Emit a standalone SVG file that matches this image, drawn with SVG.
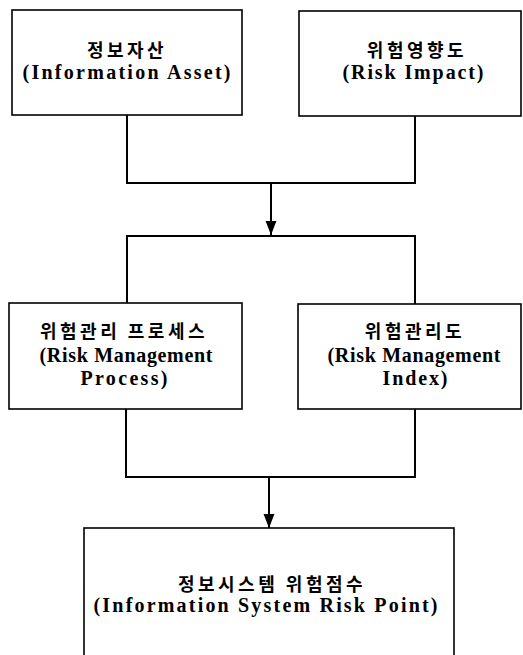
<svg xmlns="http://www.w3.org/2000/svg" width="523" height="655" viewBox="0 0 523 655">
<style>
.box{fill:#fff;stroke:#000;stroke-width:1.6}
.ko{font-family:"Noto Sans CJK KR","Noto Sans",sans-serif;font-size:18px;font-weight:bold;letter-spacing:3.5px;text-anchor:middle;fill:#000}
.en{font-family:"Liberation Serif","DejaVu Serif",serif;font-size:20px;font-weight:bold;text-anchor:middle;fill:#000}
.ln{fill:none;stroke:#000;stroke-width:2}
</style>
<defs>
<marker id="arr" markerUnits="userSpaceOnUse" markerWidth="14" markerHeight="18" refX="18" refY="7" orient="auto" viewBox="0 0 18 14">
<path d="M0,0 L18,7 L0,14 Z" fill="#000"/>
</marker>
</defs>
<g id="connectors">
<path class="ln" d="M127,115 V183 H415 V116"/>
<line class="ln" x1="271" y1="183" x2="271" y2="235" marker-end="url(#arr)"/>
<path class="ln" d="M127,303 V236 H415 V304"/>
<path class="ln" d="M126,409 V477 H415 V409"/>
<line class="ln" x1="269" y1="477" x2="269" y2="528" marker-end="url(#arr)"/>
</g>
<g id="n1">
<rect class="box" x="12" y="10" width="230" height="105"/>
<text class="ko" x="127" y="57">정보자산</text>
<text class="en" x="126.5" y="79" textLength="208" lengthAdjust="spacing">(Information Asset)</text>
</g>
<g id="n2">
<rect class="box" x="299" y="11" width="222" height="105"/>
<text class="ko" x="417" y="57">위험영향도</text>
<text class="en" x="413" y="79" textLength="141" lengthAdjust="spacing">(Risk Impact)</text>
</g>
<g id="n3">
<rect class="box" x="9" y="303" width="233" height="106"/>
<text class="ko" x="124" y="338">위험관리 프로세스</text>
<text class="en" x="126" y="362" textLength="173" lengthAdjust="spacing">(Risk Management</text>
<text class="en" x="124" y="385" textLength="87" lengthAdjust="spacing">Process)</text>
</g>
<g id="n4">
<rect class="box" x="298" y="304" width="223" height="105"/>
<text class="ko" x="415" y="338">위험관리도</text>
<text class="en" x="414" y="362" textLength="173" lengthAdjust="spacing">(Risk Management</text>
<text class="en" x="415" y="385" textLength="65" lengthAdjust="spacing">Index)</text>
</g>
<g id="n5">
<rect class="box" x="84" y="528" width="370" height="140"/>
<text class="ko" x="272" y="591">정보시스템 위험점수</text>
<text class="en" x="265.5" y="612" textLength="344" lengthAdjust="spacing">(Information System Risk Point)</text>
</g>
</svg>
